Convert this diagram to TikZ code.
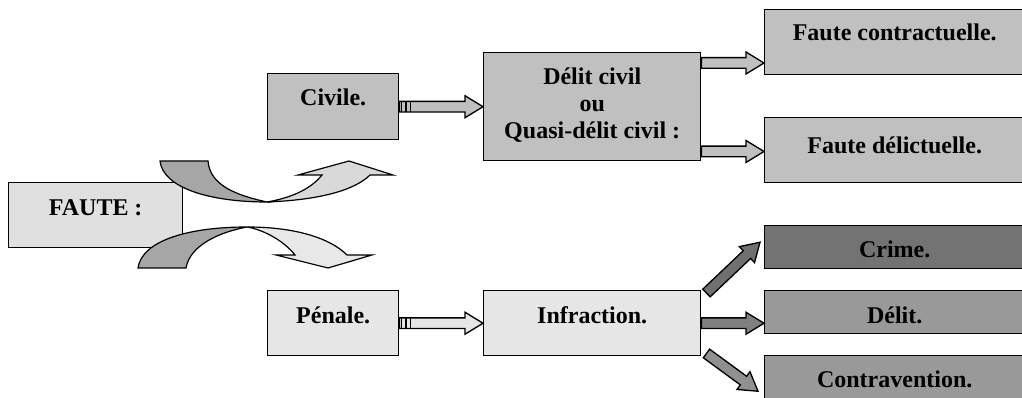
\documentclass[tikz,border=0pt]{standalone}
\usepackage{fontspec}
\setmainfont{Liberation Serif}
\usetikzlibrary{calc}

% block arrow between two points: \blockarrow[options]{(start)}{(tip)}
\newcommand{\blockarrow}[3][]{%
  \coordinate (ba) at #2;
  \coordinate (bb) at #3;
  \coordinate (bc) at ($(bb)!13.5pt!(ba)$);
  \draw[barrow,#1] ($(ba)!4pt!90:(bb)$) -- ($(bc)!4pt!90:(bb)$) -- ($(bc)!8.25pt!90:(bb)$) -- (bb) -- ($(bc)!8.25pt!-90:(bb)$) -- ($(bc)!4pt!-90:(bb)$) -- ($(ba)!4pt!-90:(bb)$) -- cycle ;
}

\begin{document}
\begin{tikzpicture}[x=0.75pt,y=0.75pt,yscale=-1,xscale=1,
  box/.style={draw, line width=1.1pt, anchor=north west, inner sep=0pt, align=center, font=\bfseries\fontsize{18}{20.25}\selectfont},
  litebox/.style={box, fill={rgb, 255:red, 230; green, 230; blue, 230 }},
  midbox/.style={box, fill={rgb, 255:red, 192; green, 192; blue, 192 }},
  darkbox/.style={box, fill={rgb, 255:red, 115; green, 115; blue, 115 }},
  greybox/.style={box, fill={rgb, 255:red, 153; green, 153; blue, 153 }},
  barrow/.style={draw, line width=1pt, line join=miter},
  curvdark/.style={draw, line width=0.9pt, fill={rgb, 255:red, 166; green, 166; blue, 166 }},
  curvlite/.style={draw, line width=0.9pt, fill={rgb, 255:red, 217; green, 217; blue, 217 }},
  curvpale/.style={draw, line width=0.9pt, fill={rgb, 255:red, 232; green, 232; blue, 232 }}]
\useasboundingbox (0,0) rectangle (1022,398);

%Shape: Rectangle
\node[litebox, fill={rgb, 255:red, 224; green, 224; blue, 224 }, minimum width=130.5pt, minimum height=48.75pt, text height=24.75pt, text depth=24pt] (faute) at (8,182) {FAUTE :};
%Shape: Rectangle
\node[midbox, minimum width=98.25pt, minimum height=49.5pt, text height=24pt, text depth=25.5pt] (civile) at (267,73) {Civile.};
%Shape: Rectangle
\node[litebox, minimum width=98.25pt, minimum height=48.75pt, text height=24.75pt, text depth=24pt] (penale) at (267,290) {Pénale.};
%Shape: Rectangle
\node[midbox, minimum width=162.75pt, minimum height=81pt, text height=64.5pt, text depth=16.5pt] (dciv) at (483,52) {Délit civil\\ou\\Quasi-délit civil :};
%Shape: Rectangle
\node[litebox, minimum width=162.75pt, minimum height=48.75pt, text height=24.75pt, text depth=24pt] (infr) at (483,290) {Infraction.};
%Shape: Rectangle
\node[midbox, minimum width=195pt, minimum height=48.75pt, text height=23.25pt, text depth=25.5pt] (contr) at (764,9) {Faute contractuelle.};
%Shape: Rectangle
\node[midbox, minimum width=195pt, minimum height=48.75pt, text height=27pt, text depth=21.75pt] (delic) at (764,117) {Faute délictuelle.};
%Shape: Rectangle
\node[darkbox, minimum width=195pt, minimum height=32.25pt, text height=24pt, text depth=8.25pt] (crime) at (764,225) {Crime.};
%Shape: Rectangle
\node[greybox, minimum width=195pt, minimum height=32.25pt, text height=24.75pt, text depth=7.5pt] (delit) at (764,290) {Délit.};
%Shape: Rectangle
\node[greybox, minimum width=195pt, minimum height=33pt, text height=24pt, text depth=9pt] (contrav) at (764,355) {Contravention.};

%Curve Lines
\draw[curvdark] (160,161) .. controls (163,188) and (210,202) .. (267,202) .. controls (235,195) and (210,185) .. (208,161) -- cycle ;
\draw[curvlite] (267,202) .. controls (320,200) and (355,190) .. (370,175) -- (393,175) -- (349,161) -- (298,175) -- (322,175) .. controls (310,190) and (290,198) .. (267,202) -- cycle ;
%Curve Lines
\draw[curvdark] (138,268) .. controls (142,240) and (190,227) .. (247,227) .. controls (220,232) and (190,245) .. (186,268) -- cycle ;
\draw[curvpale] (247,227) .. controls (295,227) and (330,238) .. (347,255) -- (372,255) -- (328,268) -- (276,255) -- (295,255) .. controls (285,242) and (265,230) .. (247,227) -- cycle ;

%Block Arrows
\blockarrow[fill={rgb, 255:red, 192; green, 192; blue, 192 }]{(civile.east)}{(dciv.west)}
\foreach \d in {2,6.5,11} \draw[line width=1.2pt] ($(civile.east)+(\d,-5)$) -- ++(0,10);
\blockarrow[fill={rgb, 255:red, 230; green, 230; blue, 230 }]{(penale.east)}{(infr.west)}
\foreach \d in {2,6.5,11} \draw[line width=1.2pt] ($(penale.east)+(\d,-5)$) -- ++(0,10);
%Block Arrows
\coordinate (up) at ($(dciv.north east)+(0,11)$);
\coordinate (dn) at ($(dciv.south east)+(0,-10)$);
\blockarrow[fill={rgb, 255:red, 192; green, 192; blue, 192 }]{(up)}{(up -| contr.west)}
\blockarrow[fill={rgb, 255:red, 192; green, 192; blue, 192 }]{(dn)}{(dn -| delic.west)}
%Block Arrows
\blockarrow[fill={rgb, 255:red, 112; green, 112; blue, 112 }]{($(infr.north east)+(5,3)$)}{($(crime.west)+(-4,-5)$)}
\blockarrow[fill={rgb, 255:red, 128; green, 128; blue, 128 }]{(infr.east)}{(infr.east -| delit.west)}
\blockarrow[fill={rgb, 255:red, 144; green, 144; blue, 144 }]{($(infr.south east)+(5,-3)$)}{($(contrav.west)+(-6,13.5)$)}

\end{tikzpicture}
\end{document}
